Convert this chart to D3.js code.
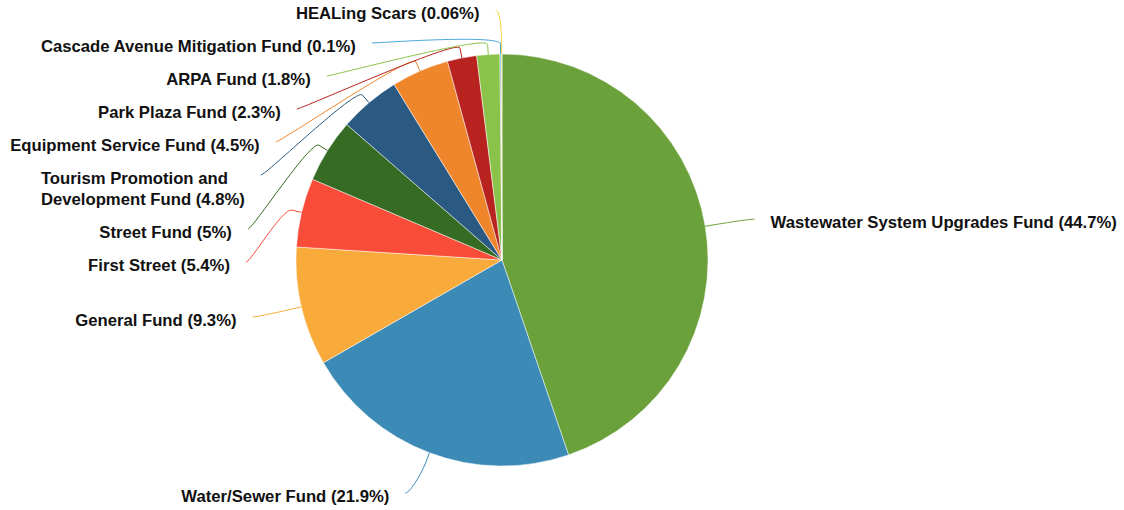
<!DOCTYPE html>
<html>
<head>
<meta charset="utf-8">
<script src="https://cdn.jsdelivr.net/npm/d3@7"></script>
<style>
  body { margin: 0; background: #fff; }
  text { font-family: "Liberation Sans", Arial, Helvetica, sans-serif; font-weight: bold; font-size: 16.7px; fill: #111; }
</style>
</head>
<body>
<svg id="chart" width="1124" height="510"></svg>
<script>
// fund shares, clockwise from 12 o'clock
var funds = [
    "Wastewater System Upgrades Fund",
    "Water/Sewer Fund",
    "General Fund",
    "First Street",
    "Street Fund",
    "Tourism Promotion and Development Fund",
    "Equipment Service Fund",
    "Park Plaza Fund",
    "ARPA Fund",
    "Cascade Avenue Mitigation Fund",
    "HEALing Scars"
];
var shares = [44.7, 21.9, 9.3, 5.4, 5, 4.8, 4.5, 2.3, 1.8, 0.1, 0.06];
var colors = ["#6aa13b", "#3c8ab6", "#f8ab3a", "#f94c39", "#356b22", "#2a5a82",
              "#f0862c", "#b8221f", "#8bc34a", "#4aa8dc", "#fbd43c"];

var width = 1124, height = 510;
var cx = 502, cy = 260, radius = 206;
var labelRadius = 250, labelPad = 6, breakOffset = 10, textGap = 16;
var lineH = 21, slotPad = 12, topY = 10, bottomY = 493;

var data = funds.map((name, i) => ({ name: name, value: shares[i], color: colors[i] }));

var svg = d3.select("#chart");
var g = svg.append("g");

var arcs = d3.pie().sort(null).value(d => d.value)(data);
var arc = d3.arc().innerRadius(0).outerRadius(radius);

g.append("g")
    .attr("transform", `translate(${cx},${cy})`)
  .selectAll("path")
  .data(arcs)
  .join("path")
    .attr("d", arc)
    .attr("fill", d => d.data.color)
    .attr("stroke", "#fff")
    .attr("stroke-width", 0.5)
    .attr("stroke-linejoin", "round");

function polar(a, r) {
    return [cx + r * Math.sin(a), cy - r * Math.cos(a)];
}

// measure helper for wrapping
var probe = svg.append("text").attr("visibility", "hidden");
function textWidth(s) {
    probe.text(s);
    return probe.node().getComputedTextLength();
}
function wrap(s, maxW) {
    var words = s.split(" "), lines = [], cur = "";
    words.forEach(w => {
        var t = cur ? cur + " " + w : w;
        if (cur && textWidth(t) > maxW) { lines.push(cur); cur = w; }
        else cur = t;
    });
    lines.push(cur);
    return lines;
}

var labels = arcs.map(d => {
    var mid = (d.startAngle + d.endAngle) / 2;
    var s = `${d.data.name} (${d.data.value}%)`;
    return {
        arc: d,
        mid: mid,
        side: Math.sin(mid) < 0 ? "left" : "right",
        natural: cy - labelRadius * Math.cos(mid),
        text: s,
        lines: [s]
    };
});

function xFor(l) {
    var dy = Math.max(-labelRadius, Math.min(labelRadius, l.y - cy));
    var dx = Math.sqrt(labelRadius * labelRadius - dy * dy) + labelPad;
    return l.side === "left" ? cx - dx : cx + dx;
}

function layout() {
    ["left", "right"].forEach(side => {
        var list = labels.filter(l => l.side === side).sort((a, b) => a.natural - b.natural);
        var slot = l => slotPad + lineH * l.lines.length;
        // push down from the top
        list.forEach((l, i) => {
            l.y = i === 0 ? Math.max(l.natural, topY) : Math.max(l.natural, list[i - 1].y + slot(list[i - 1]));
        });
        // push up from the bottom
        for (var i = list.length - 1; i >= 0; --i) {
            var limit = i === list.length - 1 ? bottomY : list[i + 1].y - slot(list[i]);
            if (list[i].y > limit) list[i].y = limit;
        }
        list.forEach(l => { l.x = xFor(l); });
    });
}

// two passes: place, wrap to the room left, place again
layout();
labels.forEach(l => {
    var room = l.side === "left" ? l.x - textGap - 8 : width - (l.x + textGap) - 4;
    l.lines = wrap(l.text, room);
});
layout();
labels.forEach(l => { l.blockW = d3.max(l.lines, textWidth); });
probe.remove();

var conn = g.append("g");
conn.selectAll("path")
  .data(labels)
  .join("path")
    .attr("fill", "none")
    .attr("stroke", l => l.arc.data.color)
    .attr("stroke-width", 1)
    .attr("d", l => {
        var t = polar(l.mid, radius), b = polar(l.mid, radius + breakOffset);
        var c1x = l.x + (l.side === "left" ? 5 : -5);
        return `M${l.x},${l.y}C${c1x},${l.y} ${2 * b[0] - t[0]},${2 * b[1] - t[1]} ${b[0]},${b[1]}L${t[0]},${t[1]}`;
    });

// label blocks: right-aligned to the connector on the left, lines left-aligned inside
var left = l => l.side === "left" ? l.x - textGap - l.blockW : l.x + textGap;

var txt = g.append("g").selectAll("text")
  .data(labels)
  .join("text")
    .attr("x", left)
    .attr("y", l => l.y + 9);

txt.selectAll("tspan")
  .data(l => l.lines.map((s, i) => ({ s: s, i: i, l: l })))
  .join("tspan")
    .attr("x", d => left(d.l))
    .attr("dy", d => d.i === 0 ? 0 : lineH)
    .text(d => d.s);
</script>
</body>
</html>
